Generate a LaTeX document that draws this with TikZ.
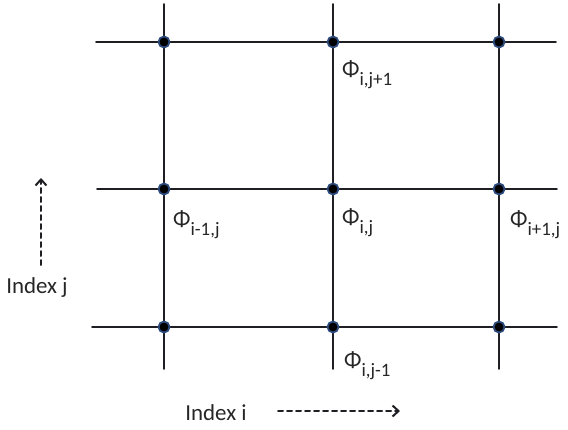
\documentclass[tikz,border=0pt]{standalone}
\usepackage{fontspec}
\setmainfont{Carlito}
\usepackage{tkz-euclide}
\usetikzlibrary{arrows.meta,positioning}

\definecolor{gridline}{RGB}{30,30,35}
\definecolor{dotrim}{RGB}{45,75,125}
\newcommand{\phisub}[1]{Φ\raisebox{-9bp}{\fontsize{19}{21}\selectfont #1}}

\begin{document}
\begin{tikzpicture}[x=1bp,y=1bp,>={Straight Barb[length=6bp,width=11bp]},
	font=\fontsize{23}{27}\selectfont, line join=round, line cap=round,
	gridseg/.style={draw=gridline,line width=1.7bp},
	phlabel/.style={inner sep=0pt,anchor=north west,text=black!85},
	idxarrow/.style={->,draw=gridline,line width=2bp,dash pattern=on 5bp off 4bp}]
	\useasboundingbox (0,0) rectangle (568,429);
	% grid points
	\tkzDefPoints{164/387/A,333/387/B,499/387/C,
		164/240/D,333/240/E,499/240/F,
		164/102/G,333/102/H,499/102/K}
	% ends of the lines
	\tkzDefPoints{96/387/L1,556/387/R1,97/240/L2,557/240/R2,92/102/L3,557/102/R3}
	\tkzDefPoints{164/425/T1,333/425/T2,499/425/T3,164/60/U1,333/60/U2,499/60/U3}
	\tkzDrawSegments[gridseg](L1,R1 L2,R2 L3,R3)
	\tkzDrawSegments[gridseg](T1,U1 T2,U2 T3,U3)
	\foreach \p in {A,B,C,D,E,F,G,H,K}
		\filldraw[fill=black,draw=dotrim,line width=1.8bp] (\p) circle (5.5bp);
	% labels
	\node[phlabel] (phiN) at ([shift={(9,-18)}]B) {\phisub{i,j+1}};
	\node[phlabel] (phiW) at ([shift={(9,-21)}]D) {\phisub{i-1,j}};
	\node[phlabel] (phiC) at ([shift={(9,-19)}]E) {\phisub{i,j}};
	\node[phlabel] (phiE) at ([shift={(11,-21)}]F) {\phisub{i+1,j}};
	\node[phlabel] (phiS) at ([shift={(11,-24)}]H) {\phisub{i,j-1}};
	% index arrows
	\node[text=black!85] (idxj) at (37,141) {Index j};
	\node[text=black!85] (idxi) at (216,16) {Index i};
	\coordinate (j0) at (41,164);
	\coordinate (j1) at (41,251);
	\coordinate (i0) at (278,18);
	\coordinate (i1) at (400,18);
	\draw[idxarrow] (j0) -- (j1);
	\draw[idxarrow] (i0) -- (i1);
\end{tikzpicture}
\end{document}
